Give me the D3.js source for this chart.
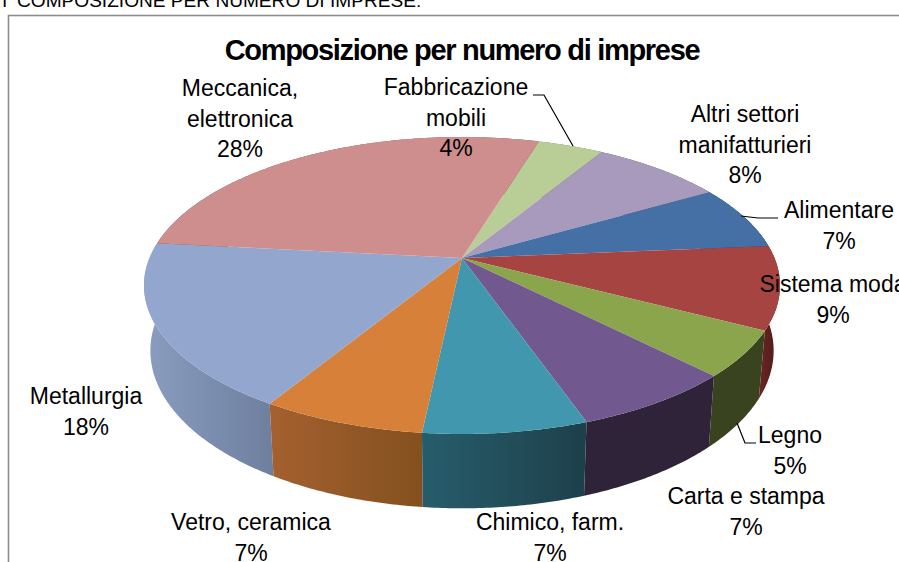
<!DOCTYPE html>
<html>
<head>
<meta charset="utf-8">
<script src="https://cdn.jsdelivr.net/npm/d3@7"></script>
<style>
  html, body { margin: 0; padding: 0; background: #fff; }
  svg { display: block; }
  text { font-family: "Liberation Sans", Arial, sans-serif; fill: #000; }
</style>
</head>
<body>
<script>
// Sectors in clockwise order, starting at the Fabbricazione mobili slice.
const categories = ["Fabbricazione mobili", "Altri settori manifatturieri", "Alimentare", "Sistema moda",
  "Legno", "Carta e stampa", "Chimico, farm.", "Vetro, ceramica", "Metallurgia", "Meccanica, elettronica"];
const shares = [4, 8, 7, 9, 5, 7, 7, 7, 18, 28];
const labelLines = [["Fabbricazione", "mobili"], ["Altri settori", "manifatturieri"], ["Alimentare"], ["Sistema moda"],
  ["Legno"], ["Carta e stampa"], ["Chimico, farm."], ["Vetro, ceramica"], ["Metallurgia"], ["Meccanica,", "elettronica"]];

const topColors = ["#b9cd96", "#a89abd", "#4470a5", "#a64442", "#8aa54c", "#71588f", "#4097ae", "#d7803a", "#92a6ce", "#cd8e8d"];
const wallStart = ["#6f7b5a", "#655c71", "#294363", "#6d2423", "#39431f", "#2e2339", "#275d6b", "#a5602f", "#8a9dc0", "#7b5554"];
const wallEnd = ["#6f7b5a", "#655c71", "#294363", "#4a1a1a", "#39431f", "#2e2339", "#1d404b", "#84501f", "#6e7f9e", "#7b5554"];

// Label block placement: horizontal centre and first baseline.
const labelSpots = [[456, 95], [745, 122], [839, 218], [833, 292], [790, 443], [746, 504], [550, 530], [251, 530], [86, 404], [240, 96]];
// Leader lines for the labels pulled away from their slices.
const leaders = [
  [[533, 95], [544, 95], [573, 146]],
  [[741, 216], [758, 218], [778, 218]],
  [[737, 423], [745, 443], [756, 443]]
];

const W = 899, H = 562;
const svg = d3.select("body").append("svg").attr("width", W).attr("height", H);
const defs = svg.append("defs");

// Perspective projection of the tilted disc: u points right, v points away from the viewer.
const apex = { x: 462, y: 258 };
const radiusX = 312.5, radiusY = 143.4, foreshorten = 0.185;
const bottomScale = 0.98, drop = 63.5;

function topPoint(a) {
  const u = Math.sin(a), v = Math.cos(a), w = 1 + foreshorten * v;
  return [apex.x + radiusX * u / w, apex.y - radiusY * v / w];
}
function bottomPoint(a) {
  const u = Math.sin(a), v = Math.cos(a), w = 1 + foreshorten * v;
  return [apex.x + bottomScale * radiusX * u / w, apex.y + (drop - bottomScale * radiusY * v) / w];
}
function arcAngles(a0, a1) {
  const n = Math.max(2, Math.ceil((a1 - a0) / 0.01));
  return d3.range(n + 1).map(i => a0 + (a1 - a0) * i / n);
}

const startDeg = 16.8;
const slices = d3.pie().sort(null)
  .startAngle(startDeg * Math.PI / 180)
  .endAngle((startDeg + 360) * Math.PI / 180)(shares);

const line = d3.line();

slices.forEach((s, i) => {
  const g = defs.append("linearGradient").attr("id", "wall" + i).attr("x1", 0).attr("x2", 1).attr("y1", 0).attr("y2", 0);
  g.append("stop").attr("offset", 0).attr("stop-color", wallStart[i]);
  g.append("stop").attr("offset", 1).attr("stop-color", wallEnd[i]);
});

// Chart frame, running off the page at right and bottom, with the heading above it.
const heading = svg.append("text").attr("y", 7).attr("font-size", 19.1);
heading.append("tspan").attr("x", 2).text("I");
heading.append("tspan").attr("x", 17).text("COMPOSIZIONE PER NUMERO DI IMPRESE:");
svg.append("rect").attr("x", 8.5).attr("y", 15.5).attr("width", W + 20).attr("height", H + 20)
  .attr("fill", "#fff").attr("stroke", "#8c8c8c").attr("stroke-width", 1.6);

svg.append("text").attr("x", 462).attr("y", 60).attr("text-anchor", "middle")
  .attr("font-size", 29).attr("font-weight", "bold").attr("letter-spacing", -1.3)
  .text("Composizione per numero di imprese");

// Side walls first, back to front, then the top faces over them.
const depthOrder = slices.map((s, i) => i)
  .sort((a, b) => Math.cos((slices[b].startAngle + slices[b].endAngle) / 2) - Math.cos((slices[a].startAngle + slices[a].endAngle) / 2));

svg.append("g").selectAll("path").data(depthOrder).join("path")
  .attr("d", i => {
    const angles = arcAngles(slices[i].startAngle, slices[i].endAngle);
    return line([...angles.map(topPoint), ...angles.slice().reverse().map(bottomPoint)]) + "Z";
  })
  .attr("fill", i => `url(#wall${i})`);

svg.append("g").selectAll("path").data(slices).join("path")
  .attr("d", s => line([[apex.x, apex.y], ...arcAngles(s.startAngle, s.endAngle).map(topPoint)]) + "Z")
  .attr("fill", (s, i) => topColors[i]);

svg.append("g").selectAll("path").data(leaders).join("path")
  .attr("d", d => line(d)).attr("fill", "none").attr("stroke", "#000").attr("stroke-width", 1.2);

// Each label: its name lines, then the share on its own line.
const rowHeight = 30.6;
const labels = svg.append("g").attr("font-size", 23).attr("text-anchor", "middle")
  .selectAll("text").data(categories).join("text")
  .attr("x", (d, i) => labelSpots[i][0]).attr("y", (d, i) => labelSpots[i][1]);
labels.selectAll("tspan")
  .data((d, i) => [...labelLines[i], shares[i] + "%"].map(t => ({ t, x: labelSpots[i][0] })))
  .join("tspan")
  .attr("x", d => d.x).attr("dy", (d, j) => j ? rowHeight : 0).text(d => d.t);
</script>
</body>
</html>
